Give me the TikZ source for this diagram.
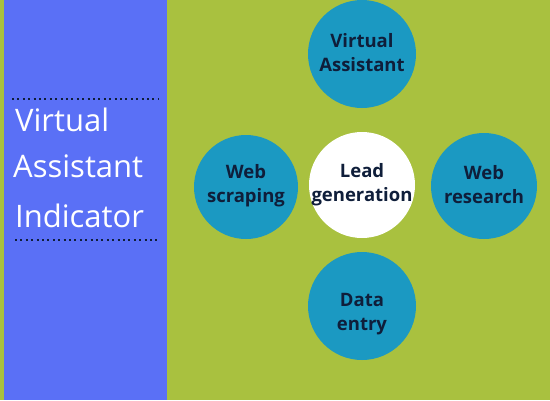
\documentclass[tikz,border=0pt]{standalone}
\usepackage{fontspec}
\setmainfont{Open Sans}
\definecolor{bggreen}{HTML}{A9C13F}
\definecolor{panelblue}{HTML}{5A70F6}
\definecolor{teal}{HTML}{1B99C2}
\definecolor{navy}{HTML}{0F1E3A}
\begin{document}
\begin{tikzpicture}[x=1pt,y=-1pt,
  bubble/.style={circle,fill=teal,minimum size=108pt,inner sep=0pt},
  centre/.style={bubble,fill=white,minimum size=106pt},
  btext/.style={inner sep=0pt,align=center,text=navy,font=\fontsize{18.5}{24}\selectfont\bfseries},
  lefttext/.style={anchor=base west,text=white,inner sep=0pt,font=\fontsize{31}{34}\selectfont},
  dotline/.style={navy,line width=2pt,dash pattern=on 2pt off 3.4pt}]
\useasboundingbox (0,0) rectangle (550,400);
\fill[bggreen] (0,0) rectangle (550,400);
\fill[panelblue] (4,0) rectangle (167,400);
\coordinate (d1a) at (12,99);
\coordinate (d1b) at (158,99);
\coordinate (d2a) at (15,240);
\coordinate (d2b) at (158,240);
\draw[dotline] (d1a) -- (d1b);
\draw[dotline] (d2a) -- (d2b);
\node[lefttext] (t1) at (15,131) {Virtual};
\node[lefttext] (t2) at (13,177) {Assistant};
\node[lefttext] (t3) at (15,227) {Indicator};
\node[bubble] (va) at (362,54) {};
\node[bubble,minimum size=104pt] (ws) at (246,187) {};
\node[centre] (lg) at (362,185) {};
\node[bubble,minimum size=106pt] (wr) at (484,186) {};
\node[bubble] (de) at (362,306) {};
\node[btext] (vat) at ([yshift=1pt]va.center) {Virtual\\Assistant};
\node[btext] (wst) at ([yshift=1pt]ws.center) {Web\\scraping};
\node[btext] (lgt) at (lg.center) {Lead\\generation};
\node[btext] (wrt) at ([yshift=1pt]wr.center) {Web\\research};
\node[btext] (det) at ([yshift=-8pt]de.center) {Data\\entry};
\end{tikzpicture}
\end{document}
